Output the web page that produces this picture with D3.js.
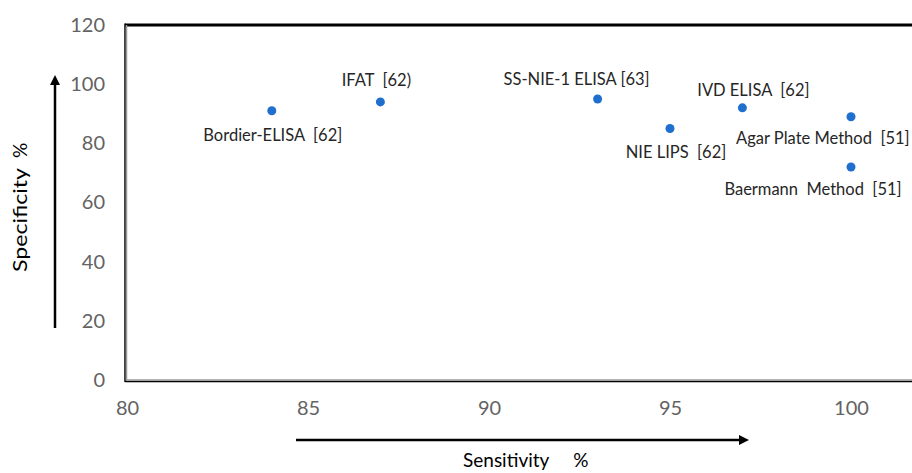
<!DOCTYPE html>
<html lang="en">
<head>
  <meta charset="UTF-8">
  <title>Sensitivity vs Specificity</title>
  <script src="https://cdn.jsdelivr.net/npm/d3@7"></script>
  <style>
    body {
      margin: 0;
      padding: 0;
      background: #fff;
      font-family: Lato, "Open Sans", sans-serif;
    }
    text { white-space: pre; }
  </style>
</head>
<body>
<div id="chart"></div>

<script>
  // Data
  const methods = [
    "Bordier-ELISA  [62]",
    "IFAT  [62)",
    "SS-NIE-1 ELISA [63]",
    "NIE LIPS  [62]",
    "IVD ELISA  [62]",
    "Agar Plate Method  [51]",
    "Baermann  Method  [51]"
  ];
  const sensitivity = [84, 87, 93, 95, 97, 100, 100];
  const specificity = [91, 94, 95, 85, 92, 89, 72];

  const xTicks = [80, 85, 90, 95, 100];
  const yTicks = [0, 20, 40, 60, 80, 100, 120];

  // label placement relative to each point (layout only): dx, dy, anchor
  const labelOffsets = [
    [1, 30, "middle"], [-4, -16, "middle"], [-21, -14, "middle"], [6, 29, "middle"],
    [11, -12, "middle"], [-115, 27, "start"], [-38, 28, "middle"]
  ];

  const width = 912;
  const height = 473;

  // Create the scales.
  const x = d3.scaleLinear().domain([80, 105]).range([127, 1032]);
  const y = d3.scaleLinear().domain([0, 120]).range([380, 25]);

  const svg = d3.select("#chart").append("svg")
          .attr("width", width)
          .attr("height", height)
          .style("display", "block");

  // Plot frame (double line left/bottom, heavy top)
  const frame = svg.append("g");
  frame.append("line")
          .attr("x1", x(80) - 2).attr("x2", width + 10)
          .attr("y1", y(120)).attr("y2", y(120))
          .attr("stroke", "#000").attr("stroke-width", 3);
  frame.append("line")
          .attr("x1", x(80) - 2).attr("x2", x(80) - 2)
          .attr("y1", y(120) - 1.5).attr("y2", y(0) + 2)
          .attr("stroke", "#000").attr("stroke-width", 1.5);
  frame.append("line")
          .attr("x1", x(80) - 0.5).attr("x2", x(80) - 0.5)
          .attr("y1", y(120)).attr("y2", y(0) + 0.5)
          .attr("stroke", "#9a9a9a").attr("stroke-width", 1.5);
  frame.append("line")
          .attr("x1", x(80) - 2).attr("x2", width + 10)
          .attr("y1", y(0) + 1.5).attr("y2", y(0) + 1.5)
          .attr("stroke", "#000").attr("stroke-width", 1.5);
  frame.append("line")
          .attr("x1", x(80) - 0.5).attr("x2", width + 10)
          .attr("y1", y(0)).attr("y2", y(0))
          .attr("stroke", "#9a9a9a").attr("stroke-width", 1.5);

  // Axes
  const xAxis = svg.append("g")
          .attr("transform", `translate(0,${y(0) + 21})`)
          .call(d3.axisBottom(x).tickValues(xTicks).tickSize(0).tickPadding(0));
  const yAxis = svg.append("g")
          .attr("transform", `translate(${x(80) - 22},0)`)
          .call(d3.axisLeft(y).tickValues(yTicks).tickSize(0).tickPadding(0));

  [xAxis, yAxis].forEach(a => {
    a.select(".domain").remove();
    a.selectAll("text")
            .attr("fill", "#636363")
            .style("font-family", "Lato, sans-serif")
            .style("font-size", "20px");
  });

  // Points
  const pts = methods.map((m, i) => ({name: m, sx: sensitivity[i], sp: specificity[i], off: labelOffsets[i]}));

  svg.append("g")
          .selectAll("circle")
          .data(pts)
          .join("circle")
          .attr("cx", d => x(d.sx))
          .attr("cy", d => y(d.sp))
          .attr("r", 4.5)
          .attr("fill", "#1f6fcf");

  svg.append("g")
          .selectAll("text")
          .data(pts)
          .join("text")
          .attr("x", d => x(d.sx) + d.off[0])
          .attr("y", d => y(d.sp) + d.off[1])
          .attr("text-anchor", d => d.off[2])
          .attr("fill", "#262626")
          .style("font-size", "16.5px")
          .text(d => d.name);

  // Axis titles with arrows
  const defs = svg.append("defs");
  defs.append("marker")
          .attr("id", "arrow")
          .attr("viewBox", "0 0 10 10")
          .attr("refX", 5).attr("refY", 5)
          .attr("markerWidth", 4).attr("markerHeight", 4)
          .attr("orient", "auto")
          .append("path")
          .attr("d", "M0,0L10,5L0,10Z")
          .attr("fill", "#000");

  svg.append("line")
          .attr("x1", 55).attr("x2", 55)
          .attr("y1", 328).attr("y2", 80)
          .attr("stroke", "#000").attr("stroke-width", 2.5)
          .attr("marker-end", "url(#arrow)");
  svg.append("line")
          .attr("x1", 296).attr("x2", 744)
          .attr("y1", 440).attr("y2", 440)
          .attr("stroke", "#000").attr("stroke-width", 2.5)
          .attr("marker-end", "url(#arrow)");

  const yTitle = svg.append("text")
          .attr("transform", "translate(27,272) rotate(-90)")
          .attr("fill", "#000")
          .style("font-size", "19px");
  yTitle.append("tspan").attr("textLength", 104).attr("lengthAdjust", "spacingAndGlyphs").text("Specificity");
  yTitle.append("tspan").attr("dx", 10).text("%");

  const xTitle = svg.append("text")
          .attr("x", 463).attr("y", 467)
          .attr("fill", "#000")
          .style("font-size", "19px");
  xTitle.append("tspan").text("Sensitivity");
  xTitle.append("tspan").attr("dx", 24).text("%");
</script>
</body>
</html>
